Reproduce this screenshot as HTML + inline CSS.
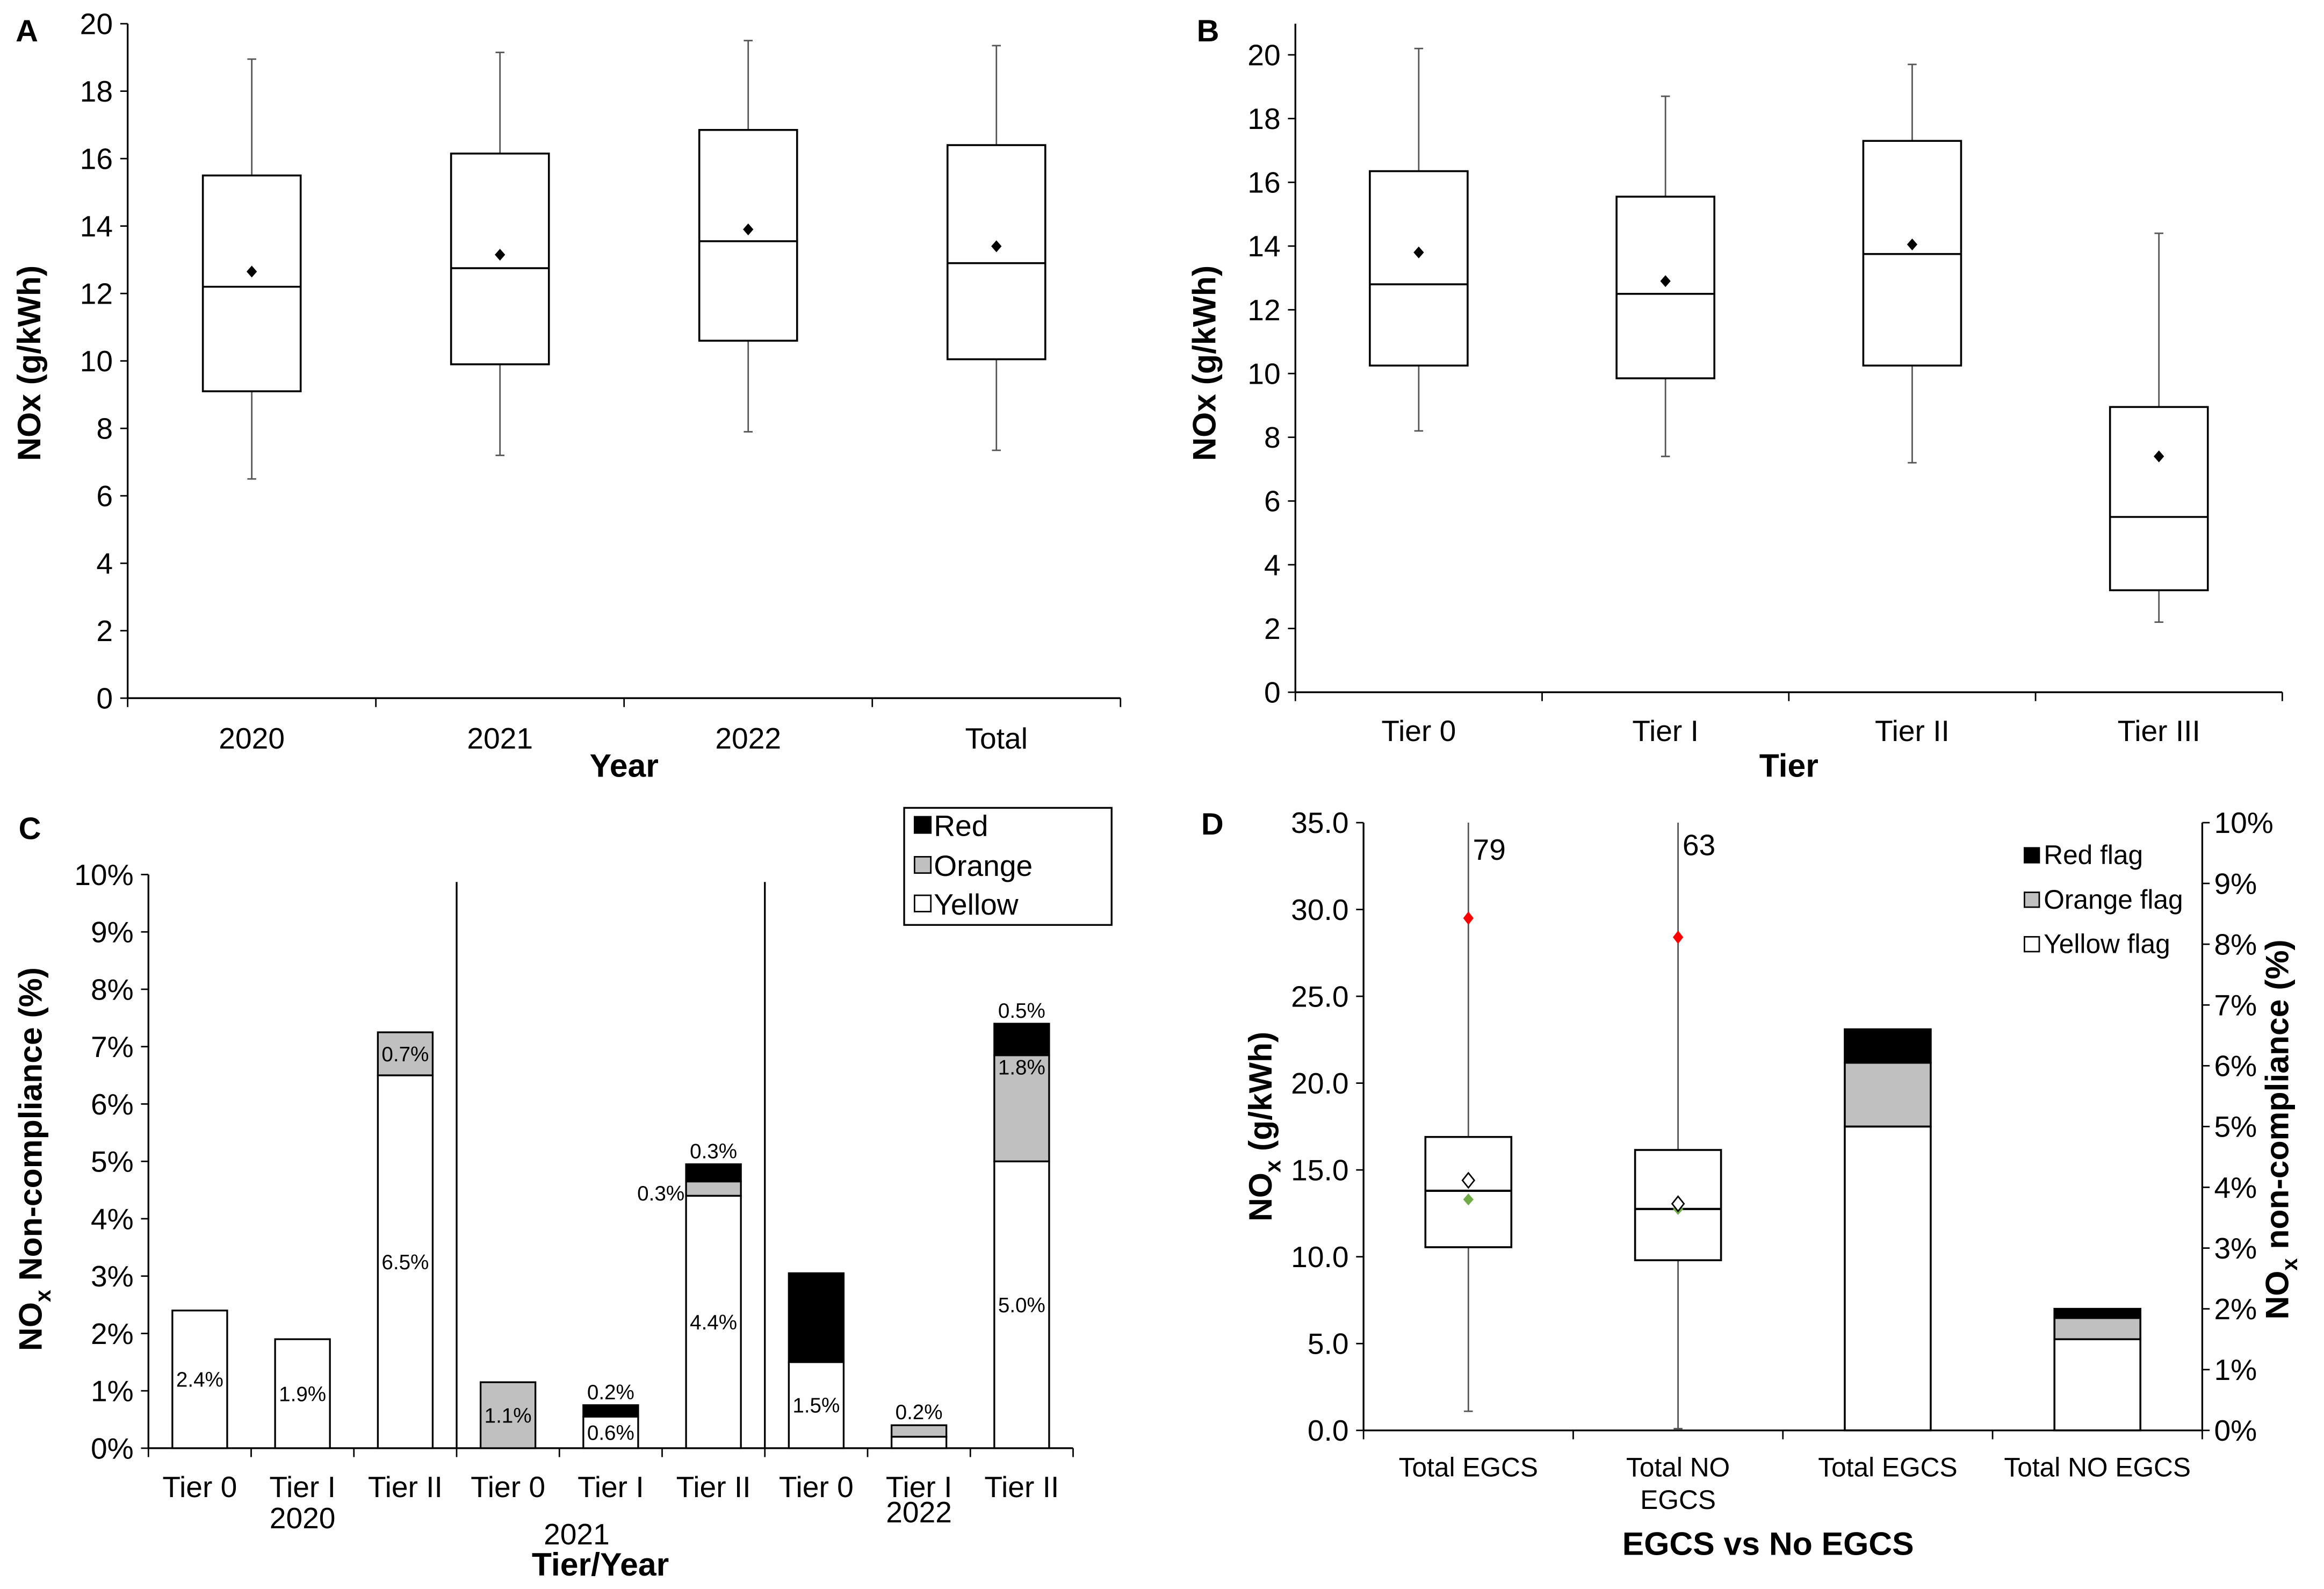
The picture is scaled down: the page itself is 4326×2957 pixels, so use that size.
<!DOCTYPE html>
<html><head><meta charset="utf-8">
<style>
html,body{margin:0;padding:0;background:#fff;}
svg{display:block;}
text{font-family:"Liberation Sans Narrow","Liberation Sans",sans-serif;fill:#000;}
.b{font-family:"Liberation Sans",sans-serif;font-weight:bold;}
</style></head>
<body>
<svg id="fig" width="4326" height="2957" viewBox="0 0 1568 1072" xmlns="http://www.w3.org/2000/svg"></svg>
<script>
// ---------- Panel A data ----------
const aCats = ['2020','2021','2022','Total'];
const aMin = [6.5, 7.2, 7.9, 7.35];
const aQ1 = [9.1, 9.9, 10.6, 10.05];
const aMed = [12.2, 12.75, 13.55, 12.9];
const aQ3 = [15.5, 16.15, 16.85, 16.4];
const aMax = [18.95, 19.15, 19.5, 19.35];
const aMean = [12.65, 13.15, 13.9, 13.4];
const aTicks = [0,2,4,6,8,10,12,14,16,18,20];
// ---------- Panel B data ----------
const bCats = ['Tier 0','Tier I','Tier II','Tier III'];
const bMin = [8.2, 7.4, 7.2, 2.2];
const bQ1 = [10.25, 9.85, 10.25, 3.2];
const bMed = [12.8, 12.5, 13.75, 5.5];
const bQ3 = [16.35, 15.55, 17.3, 8.95];
const bMax = [20.2, 18.7, 19.7, 14.4];
const bMean = [13.8, 12.9, 14.05, 7.4];
const bTicks = [0,2,4,6,8,10,12,14,16,18,20];
// ---------- Panel C data ----------
const cCats = ['Tier 0','Tier I','Tier II','Tier 0','Tier I','Tier II','Tier 0','Tier I','Tier II'];
const cYellow = [2.4, 1.9, 6.5, 0, 0.55, 4.4, 1.5, 0.2, 5.0];
const cOrange = [0, 0, 0.75, 1.15, 0, 0.25, 0, 0.2, 1.85];
const cRed = [0, 0, 0, 0, 0.2, 0.3, 1.55, 0, 0.55];
const cYears = ['2020','2021','2022'];
const cTicks = [0,1,2,3,4,5,6,7,8,9,10];
// labels: [bar index, text, mode]
const cLabels = [[0,'2.4%','y'],[1,'1.9%','y'],[2,'6.5%','y'],[2,'0.7%','o'],[3,'1.1%','o'],[4,'0.2%','top'],[4,'0.6%','y'],[5,'0.3%','top'],[5,'0.3%','left'],[5,'4.4%','y'],[6,'1.5%','y'],[7,'0.2%','top'],[8,'0.5%','top'],[8,'1.8%','otop'],[8,'5.0%','y']];
// ---------- Panel D data ----------
const dCats = ['Total EGCS','Total NO EGCS'];
const dMin = [1.1, 0.1];
const dQ1 = [10.55, 9.8];
const dMed = [13.8, 12.75];
const dQ3 = [16.9, 16.15];
const dMax = [35, 35];
const dMean = [14.4, 13.05];
const dGreen = [13.3, 12.75];
const dRed = [29.5, 28.4];
const dCount = ['79','63'];
const dBarCats = ['Total EGCS','Total NO EGCS'];
const dYellow = [5.0, 1.5];
const dOrange = [1.05, 0.35];
const dRedFlag = [0.55, 0.15];
const dLeftTicks = [0,5,10,15,20,25,30,35];
const dRightTicks = [0,1,2,3,4,5,6,7,8,9,10];

const NS='http://www.w3.org/2000/svg';
const svg=document.getElementById('fig');
function mk(tag,attrs,parent){const e=document.createElementNS(NS,tag);for(const k in attrs)e.setAttribute(k,attrs[k]);(parent||svg).appendChild(e);return e;}
function txt(s,x,y,size,anchor,cls,parent){const t=mk('text',{x:x,y:y,'font-size':size,'text-anchor':anchor||'middle'},parent);if(cls)t.setAttribute('class',cls);t.textContent=s;return t;}

function boxPanel(g,cats,mn,q1,md,q3,mx,mean,scaleY,x0,step,bw){
  for(let i=0;i<cats.length;i++){
    const cx=x0+step*(i+0.5);
    const wl=mk('line',{x1:cx,x2:cx,y1:scaleY(mx[i]),y2:scaleY(q3[i]),stroke:'#555','stroke-width':1},g);
    
    
    const wl2=mk('line',{x1:cx,x2:cx,y1:scaleY(q1[i]),y2:scaleY(mn[i]),stroke:'#555','stroke-width':1},g);
    
    
    const c1=mk('line',{x1:cx-3,x2:cx+3,y1:scaleY(mx[i]),y2:scaleY(mx[i]),stroke:'#555'},g);
    
    
    const c2=mk('line',{x1:cx-3,x2:cx+3,y1:scaleY(mn[i]),y2:scaleY(mn[i]),stroke:'#555'},g);
    
    
    const r=mk('rect',{x:cx-bw/2,y:scaleY(q3[i]),width:bw,height:scaleY(q1[i])-scaleY(q3[i]),fill:'#fff',stroke:'#000','stroke-width':1.3},g);
    
    
    const m=mk('line',{x1:cx-bw/2,x2:cx+bw/2,y1:scaleY(md[i]),y2:scaleY(md[i]),stroke:'#000','stroke-width':1.3},g);
    
    
    if(mean){const my=scaleY(mean[i]);
      const d=mk('polygon',{points:`${cx},${my-4} ${cx+3.5},${my} ${cx},${my+4} ${cx-3.5},${my}`,fill:'#000'},g);
      
      }
  }
}
function axesBox(g,x0,x1,y0,y1,ticks,scaleY,labelFmt,nCats){
  const ya=mk('line',{x1:x0,x2:x0,y1:y0,y2:y1,stroke:'#000','stroke-width':1.2},g);
  
  
  const xa=mk('line',{x1:x0,x2:x1,y1:y0,y2:y0,stroke:'#000','stroke-width':1.2},g);
  
  
  ticks.forEach(t=>{const y=scaleY(t);
    const tk=mk('line',{x1:x0-5,x2:x0,y1:y,y2:y,stroke:'#000'},g);
    
    
    const tl=txt(labelFmt(t),x0-10,y+7,20,'end',null,g);
    
    });
  const step=(x1-x0)/nCats;
  for(let i=0;i<=nCats;i++){const x=x0+step*i;
    const tk=mk('line',{x1:x,x2:x,y1:y0,y2:y0+6,stroke:'#000'},g);
    
    }
  return step;
}

// ===== Panel A =====
const gA=mk('g',{});


const aY=v=>471-v*(455/20);
const aStep=axesBox(gA,86,756,471,16,aTicks,aY,v=>String(v),aCats.length);
boxPanel(gA,aCats,aMin,aQ1,aMed,aQ3,aMax,aMean,aY,86,aStep,66);
aCats.forEach((c,i)=>{const t=txt(c,86+aStep*(i+0.5),505,20,'middle',null,gA);
  
  });
let t;
t=txt('A',18,28,21,'middle','b',gA);


t=txt('Year',421,524,22,'middle','b',gA);


t=txt('NOx (g/kWh)',0,0,22,'middle','b',gA);
t.setAttribute('transform','translate(27,245) rotate(-90)');



// ===== Panel B =====
const gB=mk('g',{});


const bY=v=>467-v*(430/20);
const bStep=axesBox(gB,874,1540,467,16,bTicks,bY,v=>String(v),bCats.length);
boxPanel(gB,bCats,bMin,bQ1,bMed,bQ3,bMax,bMean,bY,874,bStep,66);
bCats.forEach((c,i)=>{const t=txt(c,874+bStep*(i+0.5),500,20,'middle',null,gB);
  
  });
t=txt('B',815,28,21,'middle','b',gB);


t=txt('Tier',1207,524,22,'middle','b',gB);


t=txt('NOx (g/kWh)',0,0,22,'middle','b',gB);
t.setAttribute('transform','translate(820,245) rotate(-90)');



// ===== Panel C =====
const gC=mk('g',{});


const cY=v=>977-v*38.7;
const cStep=axesBox(gC,100,724,977,590,cTicks,cY,v=>v+'%',cCats.length);
const cbw=37;
for(let i=0;i<cCats.length;i++){
  const cx=100+cStep*(i+0.5);
  let base=0;
  [[cYellow,'#fff','yellow'],[cOrange,'#c0c0c0','orange'],[cRed,'#000','red']].forEach(([arr,fill,nm])=>{
    const v=arr[i]; if(v<=0)return;
    const r=mk('rect',{x:cx-cbw/2,y:cY(base+v),width:cbw,height:cY(base)-cY(base+v),fill:fill,stroke:'#000','stroke-width':1.2},gC);
    
    
    base+=v;});
  const l=mk('text',{x:cx,y:1010,'font-size':20,'text-anchor':'middle'},gC);
  l.textContent=cCats[i];
  
  
}
cLabels.forEach(([i,s,mode])=>{
  const cx=100+cStep*(i+0.5); let x=cx,y;
  const yT=cYellow[i],oT=cOrange[i],rT=cRed[i],tot=yT+oT+rT;
  if(mode==='y')y=(cY(0)+cY(yT))/2;
  else if(mode==='o')y=(cY(yT)+cY(yT+oT))/2;
  else if(mode==='otop')y=cY(yT+oT)+8;
  else if(mode==='top')y=cY(tot)-9;
  else if(mode==='left'){x=cx-cbw/2-17;y=(cY(yT)+cY(yT+oT))/2+3;}
  const tl=txt(s,x,y+5,14,'middle',null,gC);
  
  
});
[3,6].forEach(k=>{const x=100+cStep*k;
  const d=mk('line',{x1:x,x2:x,y1:595,y2:977,stroke:'#000','stroke-width':1.2},gC);
  
  });
const yearPos=[[204,1031],[389,1042],[620,1027]];
cYears.forEach((s,k)=>{const tl=txt(s,yearPos[k][0],yearPos[k][1],20,'middle',null,gC);
  
  });
t=txt('C',20,566,21,'middle','b',gC);


t=txt('Tier/Year',405,1063,22,'middle','b',gC);


t=mk('text',{'font-size':22,'text-anchor':'middle',class:'b',transform:'translate(28,782) rotate(-90)'},gC);
t.innerHTML='NO<tspan font-size="15" dy="6">x</tspan><tspan dy="-6"> Non-compliance (%)</tspan>';


const legC=mk('g',{},gC);


const lbox=mk('rect',{x:610,y:545,width:140,height:79,fill:'#fff',stroke:'#000','stroke-width':1.2},legC);


[['Red','#000',557],['Orange','#c0c0c0',584],['Yellow','#fff',610]].forEach(([s,f,y])=>{
  const sq=mk('rect',{x:617,y:y-6,width:11,height:11,fill:f,stroke:'#000'},legC);
  
  
  const tl=txt(s,630,y+7,20,'start',null,legC);
  
  });

// ===== Panel D =====
const gD=mk('g',{});


const dY=v=>965-v*(410/35);
const dR=v=>965-v*41;
const dStep=axesBox(gD,920,1486,965,555,dLeftTicks,dY,v=>v.toFixed(1),4);
const ra=mk('line',{x1:1486,x2:1486,y1:555,y2:965,stroke:'#000','stroke-width':1.2},gD);


dRightTicks.forEach(v=>{const y=dR(v);
  const tk=mk('line',{x1:1486,x2:1491,y1:y,y2:y,stroke:'#000'},gD);
  
  
  const tl=txt(v+'%',1494,y+7,20,'start',null,gD);
  
  });
for(let i=0;i<dCats.length;i++){
  const cx=920+dStep*(i+0.5);
  const wl=mk('line',{x1:cx,x2:cx,y1:dY(dMax[i]),y2:dY(dMin[i]),stroke:'#555'},gD);
  
  
  const cp=mk('line',{x1:cx-3,x2:cx+3,y1:dY(dMin[i]),y2:dY(dMin[i]),stroke:'#555'},gD);
  
  
  const r=mk('rect',{x:cx-29,y:dY(dQ3[i]),width:58,height:dY(dQ1[i])-dY(dQ3[i]),fill:'#fff',stroke:'#000','stroke-width':1.3},gD);
  
  
  const m=mk('line',{x1:cx-29,x2:cx+29,y1:dY(dMed[i]),y2:dY(dMed[i]),stroke:'#000','stroke-width':1.5},gD);
  
  
  const gy=dY(dGreen[i]);
  const gm=mk('polygon',{points:`${cx},${gy-4} ${cx+3.5},${gy} ${cx},${gy+4} ${cx-3.5},${gy}`,fill:'#70ad47'},gD);
  
  
  const my=dY(dMean[i]);
  const mm=mk('polygon',{points:`${cx},${my-5} ${cx+4},${my} ${cx},${my+5} ${cx-4},${my}`,fill:'#fff',stroke:'#000'},gD);
  
  
  const ry=dY(dRed[i]);
  const rm=mk('polygon',{points:`${cx},${ry-4.5} ${cx+3.5},${ry} ${cx},${ry+4.5} ${cx-3.5},${ry}`,fill:'#ff0000'},gD);
  
  
  const ct=txt(dCount[i],cx+3,580-i*3,20,'start',null,gD);
  
  
}
for(let i=0;i<dBarCats.length;i++){
  const cx=920+dStep*(i+2.5); let base=0;
  [[dYellow,'#fff','yellow'],[dOrange,'#c0c0c0','orange'],[dRedFlag,'#000','red']].forEach(([arr,f,nm])=>{
    const v=arr[i];
    const r=mk('rect',{x:cx-29,y:dR(base+v),width:58,height:dR(base)-dR(base+v),fill:f,stroke:'#000','stroke-width':1.3},gD);
    
    
    base+=v;});
}
[['Total EGCS'],['Total NO','EGCS'],['Total EGCS'],['Total NO EGCS']].forEach((lines,i)=>{
  const cx=920+dStep*(i+0.5);
  lines.forEach((s,j)=>{const tl=txt(s,cx,996+j*22,18,'middle',null,gD);
    
    });});
t=txt('D',818,563,21,'middle','b',gD);


t=txt('EGCS vs No EGCS',1193,1049,22,'middle','b',gD);


t=mk('text',{'font-size':22,'text-anchor':'middle',class:'b',transform:'translate(858,760) rotate(-90)'},gD);
t.innerHTML='NO<tspan font-size="15" dy="6">x</tspan><tspan dy="-6"> (g/kWh)</tspan>';


t=mk('text',{'font-size':22,'text-anchor':'middle',class:'b',transform:'translate(1544,762) rotate(-90)'},gD);
t.innerHTML='NO<tspan font-size="15" dy="6">x</tspan><tspan dy="-6"> non-compliance (%)</tspan>';


const legD=mk('g',{},gD);


[['Red flag','#000',577],['Orange flag','#c0c0c0',607],['Yellow flag','#fff',637]].forEach(([s,f,y])=>{
  const sq=mk('rect',{x:1366,y:y-5,width:10,height:10,fill:f,stroke:'#000'},legD);
  
  
  const tl=txt(s,1379,y+6,18,'start',null,legD);
  
  });
</script>
</body></html>
